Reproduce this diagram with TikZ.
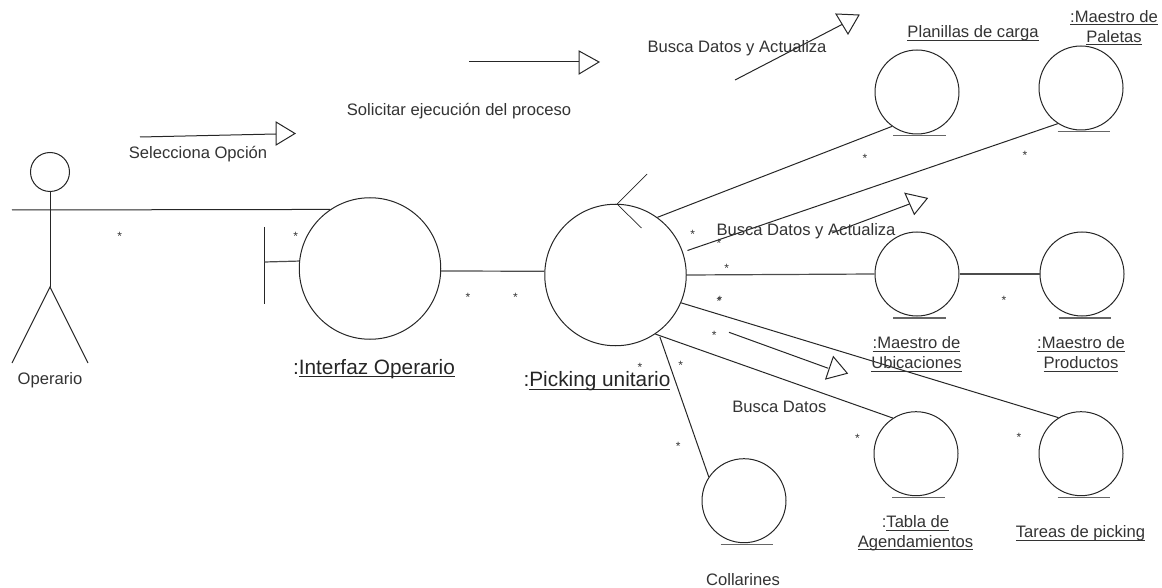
\documentclass[tikz,border=0pt]{standalone}
\usepackage{fontspec}
\setmainfont{Liberation Sans}
\newcommand{\undl}[1]{\setbox0=\hbox{#1}\rlap{\rule[-3pt]{\wd0}{1pt}}\box0}
\tikzset{
  x=1pt,y=-1pt,
  lineink/.style={draw=black!85,line width=1pt},
  ball/.style={circle,lineink,inner sep=0pt,minimum size=84pt},
  bigball/.style={circle,lineink,inner sep=0pt,minimum size=141.5pt},
  bar/.style={draw=black!60,line width=1.4pt},
  label/.style={inner sep=0pt,text=black!80,yshift=-1.7pt,font=\fontsize{16.6}{19.6}\selectfont,align=center},
  biglabel/.style={inner sep=0pt,text=black!85,yshift=-1.7pt,font=\fontsize{20.8}{24}\selectfont},
  starmark/.style={inner sep=0pt,text=black!80,font=\fontsize{12}{12}\selectfont}
}
\begin{document}
\begin{tikzpicture}
\useasboundingbox (0,0) rectangle (1162,588);
% big circles
\node[bigball] (interf) at (370,268.5) {};
\node[bigball] (pick) at (615.5,275) {};
% small circles
\node[ball] (plan) at (917,92) {};
\node[ball] (palet) at (1081,88) {};
\node[ball] (ubic) at (917,274) {};
\node[ball] (prod) at (1082,274) {};
\node[ball] (tabla) at (916,453.7) {};
\node[ball] (tareas) at (1081,453.7) {};
\node[ball] (coll) at (744,500.7) {};
% bars beneath small circles
\draw[bar] (893,135.5) -- (946,135.5);
\draw[bar] (1057.5,131.5) -- (1110,131.5);
\draw[bar] (893,318) -- (946,318);
\draw[bar] (1058.6,318) -- (1111,318);
\draw[bar] (892,497.7) -- (944.6,497.7);
\draw[bar] (1057.5,497.7) -- (1110,497.7);
\draw[bar] (720.7,544.3) -- (773,544.3);
% actor
\node[circle,lineink,inner sep=0pt,minimum size=39pt] (head) at (50,172) {};
\coordinate (hip) at (50,287);
\coordinate (footL) at (12,363);
\coordinate (footR) at (88,363);
\coordinate (armL) at (12,210);
\draw[lineink] (head.south) -- (hip);
\draw[lineink] (footL) -- (hip) -- (footR);
% boundary
\coordinate (bndT) at (264.5,227);
\coordinate (bndB) at (264.5,304);
\coordinate (bndM) at (264.5,262);
\draw[lineink] (bndT) -- (bndB);
\draw[draw=black!70,line width=1.2pt] (bndM) -- (interf.174.8);
% connectors
\draw[lineink] (armL) -- (interf.124.4);
\draw[draw=black!70,line width=1.2pt] (interf.-2.8) -- (pick.177.6);
\draw[lineink] (pick.54.2) -- (plan.-126.4);
\draw[lineink] ([shift={(4.6pt,1.3pt)}]pick.19) -- (palet.-123.7);
\draw[draw=black!70,line width=1.2pt] (pick.0) -- (ubic.180);
\draw[draw=black!70,line width=1.2pt] (ubic.0) -- (prod.180);
\draw[lineink] (pick.-23) -- (tareas.122.3);
\draw[lineink] (pick.-56.2) -- (tabla.123);
\draw[lineink] ([shift={(4.5pt,-2.7pt)}]pick.-56.2) -- (coll.146.6);
% chevron on picking
\coordinate (chevA) at (647,174);
\coordinate (chevB) at (617,204);
\coordinate (chevC) at (641.5,228);
\draw[lineink,line width=0.7pt] (chevA) -- (chevB) -- (chevC);
% message arrows
\draw[lineink] (140,137) -- (276,134);
\draw[lineink] (276,122) -- (276,145) -- (295,133.5) -- cycle;
\draw[lineink] (469,62) -- (579,62);
\draw[lineink] (579,51) -- (579,74) -- (599,62) -- cycle;
\draw[lineink] (735,80) -- (842,24.5);
\draw[lineink] (836,14) -- (859,15) -- (848,34) -- cycle;
\draw[lineink] (832,233) -- (909.5,204);
\draw[lineink] (905,193.3) -- (927.3,198.3) -- (914.3,214.3) -- cycle;
\draw[lineink] (729,332.3) -- (828.3,368.3);
\draw[lineink] (833.3,356.7) -- (847.3,373.3) -- (825.7,379) -- cycle;
% labels
\node[label] (lOper) at (50,379) {Operario};
\node[label] (lSel) at (198,152) {Selecciona Opción};
\node[label] (lSol) at (459,109) {Solicitar ejecución del proceso};
\node[label] (lBus1) at (737,47) {Busca Datos y Actualiza};
\node[label] (lBus2) at (806,230) {Busca Datos y Actualiza};
\node[label] (lBus3) at (779.3,405) {Busca Datos};
\node[label] (lColl) at (743,577.5) {Collarines};
\node[biglabel] (lInt) at (374,367) {:\undl{Interfaz Operario}};
\node[biglabel] (lPick) at (597,379.5) {:\undl{Picking unitario}};
\node[label] (lPlan) at (973,32) {\undl{Planillas de carga}};
\node[label] (lPal) at (1114,26) {\undl{:Maestro de}\\\undl{Paletas}};
\node[label] (lUbi) at (916.5,352.5) {\undl{:Maestro de}\\\undl{Ubicaciones}};
\node[label] (lProd) at (1081,352.5) {\undl{:Maestro de}\\\undl{Productos}};
\node[label] (lTab) at (915.5,531.5) {:\undl{Tabla de}\\\undl{Agendamientos}};
\node[label] (lTar) at (1080.5,531.7) {\undl{Tareas de picking}};
% multiplicities
\foreach \i/\x/\y in {1/119.6/234,2/295.7/234,3/467.9/295,4/515.4/295,5/692.7/231.7,6/719/241,7/726.7/266,8/720/297.7,9/719/298.6,10/714.3/332.7,11/680.7/363.3,12/640/365,13/678.3/444,14/865/155.7,15/1025/153,16/1004/297.7,17/857.4/435.7,18/1019/435}
  \node[starmark] (s\i) at (\x,\y+2.5) {*};
\end{tikzpicture}
\end{document}
